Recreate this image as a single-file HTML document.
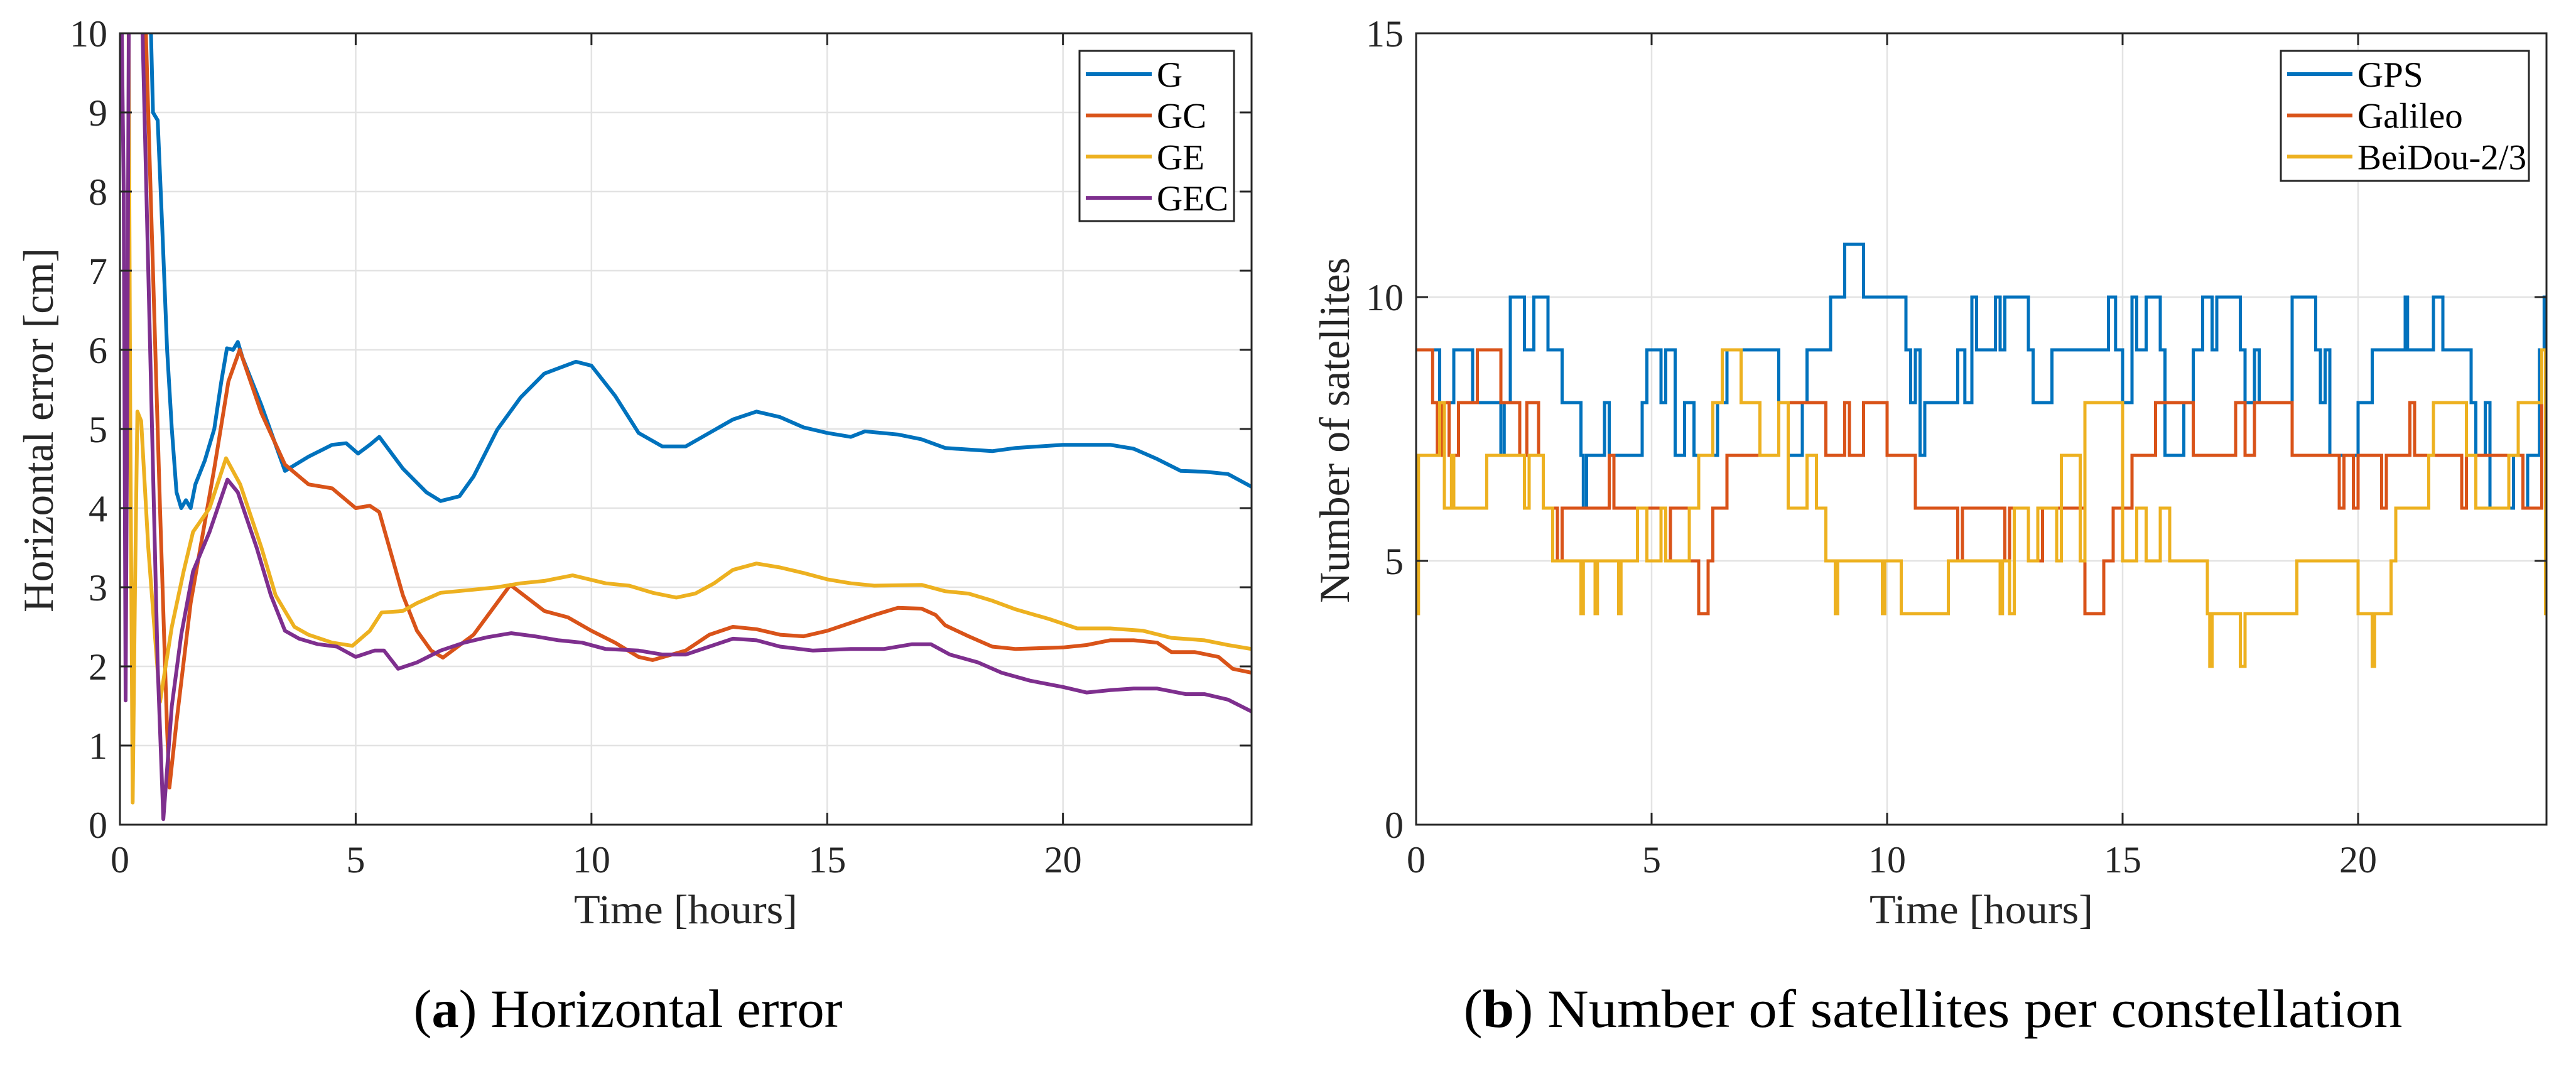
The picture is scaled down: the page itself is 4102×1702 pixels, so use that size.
<!DOCTYPE html>
<html><head><meta charset="utf-8"><style>
html,body{margin:0;padding:0;background:#fff}
svg{display:block}
text{font-family:"Liberation Serif","Times New Roman",serif;fill:#262626}
</style></head><body>
<svg id="fig" width="4102" height="1702" viewBox="0 0 4102 1702" xmlns="http://www.w3.org/2000/svg">
<defs>
<clipPath id="clipA"><rect x="191" y="53" width="1802" height="1260"/></clipPath>
<clipPath id="clipB"><rect x="2255" y="53" width="1800" height="1260"/></clipPath>
</defs>
<g id="panelA"></g>
<g id="panelB"></g>
<text x="1000" y="1635" font-size="86" text-anchor="middle" textLength="683" lengthAdjust="spacingAndGlyphs" style="fill:#000">(<tspan font-weight="bold">a</tspan>) Horizontal error</text>
<text x="3078" y="1635" font-size="86" text-anchor="middle" textLength="1495" lengthAdjust="spacingAndGlyphs" style="fill:#000">(<tspan font-weight="bold">b</tspan>) Number of satellites per constellation</text>
</svg>
<script>
// ---- Panel A data (hours, cm) ----
const gT = [0,0.6,0.65,0.7,0.8,0.9,1.0,1.1,1.2,1.3,1.4,1.5,1.6,1.8,2.0,2.15,2.27,2.4,2.5,2.6,3.0,3.5,4.0,4.5,4.8,5.05,5.3,5.5,6.0,6.5,6.8,7.2,7.5,8.0,8.5,9.0,9.67,10.0,10.5,11.0,11.5,12.0,12.5,13.0,13.5,14.0,14.5,15.0,15.5,15.8,16.5,17.0,17.5,18.0,18.5,19.0,20.0,21.0,21.5,22.0,22.5,23.0,23.5,24.0];
const gV = [12,12,10.2,9.0,8.9,7.5,6.0,5.0,4.2,4.0,4.1,4.0,4.3,4.6,5.0,5.6,6.02,6.0,6.1,5.9,5.3,4.47,4.65,4.8,4.82,4.69,4.8,4.9,4.5,4.2,4.09,4.15,4.4,4.99,5.4,5.7,5.85,5.8,5.42,4.95,4.78,4.78,4.95,5.12,5.22,5.15,5.02,4.95,4.9,4.97,4.93,4.87,4.76,4.74,4.72,4.76,4.8,4.8,4.75,4.62,4.47,4.46,4.43,4.27];
const gcT = [0,0.5,0.55,0.7,0.85,1.0,1.05,1.2,1.5,2.0,2.3,2.54,3.0,3.5,4.0,4.5,5.0,5.3,5.5,6.0,6.3,6.6,6.85,7.5,8.28,9.0,9.5,10.0,10.5,11.0,11.3,12.0,12.5,13.0,13.5,14.0,14.5,15.0,16.0,16.5,17.0,17.3,17.5,18.0,18.5,19.0,20.0,20.5,21.0,21.5,22.0,22.3,22.8,23.3,23.6,24.0];
const gcV = [12,12,10,7,4,1.2,0.47,1.3,2.8,4.5,5.6,6.0,5.2,4.55,4.3,4.25,4.0,4.03,3.95,2.9,2.45,2.2,2.11,2.4,3.03,2.7,2.62,2.45,2.3,2.12,2.08,2.2,2.4,2.5,2.47,2.4,2.38,2.45,2.65,2.74,2.73,2.65,2.52,2.38,2.25,2.22,2.24,2.27,2.33,2.33,2.3,2.18,2.18,2.12,1.97,1.92];
const geT = [0,0.17,0.22,0.27,0.32,0.37,0.45,0.6,0.85,1.1,1.35,1.55,1.9,2.25,2.55,3.0,3.3,3.7,4.0,4.5,4.93,5.3,5.55,6.0,6.3,6.8,7.5,8.0,8.5,9.0,9.6,10.3,10.8,11.3,11.8,12.2,12.6,13.0,13.5,14.0,14.5,15.0,15.5,16.0,17.0,17.5,18.0,18.5,19.0,19.7,20.3,21.0,21.7,22.3,23.0,23.5,24.0];
const geV = [12,12,5,0.28,3,5.22,5.1,3.5,1.55,2.5,3.2,3.7,4.0,4.63,4.3,3.5,2.9,2.5,2.4,2.3,2.26,2.45,2.68,2.7,2.8,2.93,2.97,3.0,3.05,3.08,3.15,3.05,3.02,2.93,2.87,2.92,3.05,3.22,3.3,3.25,3.18,3.1,3.05,3.02,3.03,2.95,2.92,2.83,2.72,2.6,2.48,2.48,2.45,2.36,2.33,2.27,2.22];
const gecT = [0,0.08,0.12,0.16,0.2,0.4,0.6,0.8,0.92,1.1,1.3,1.55,1.9,2.28,2.5,2.9,3.2,3.5,3.8,4.2,4.6,5.0,5.4,5.6,5.9,6.3,6.8,7.3,7.8,8.3,8.8,9.3,9.8,10.3,11.0,11.5,12.0,12.5,13.0,13.5,14.0,14.7,15.5,16.2,16.8,17.2,17.6,18.2,18.7,19.3,20.0,20.5,21.0,21.5,22.0,22.6,23.0,23.5,24.0];
const gecV = [12,8,1.57,6,12,12,7,2,0.07,1.5,2.4,3.2,3.7,4.36,4.2,3.5,2.9,2.45,2.35,2.28,2.25,2.12,2.2,2.2,1.97,2.05,2.2,2.3,2.37,2.42,2.38,2.33,2.3,2.22,2.2,2.15,2.15,2.25,2.35,2.33,2.25,2.2,2.22,2.22,2.28,2.28,2.15,2.05,1.92,1.82,1.74,1.67,1.7,1.72,1.72,1.65,1.65,1.58,1.43];
const seriesNamesA = ["G","GC","GE","GEC"];
const xTicks = [0,5,10,15,20];
const yTicksA = [0,1,2,3,4,5,6,7,8,9,10];
// ---- Panel B data (step change times, satellite counts) ----
const gpsT = [0,0.5,0.8,1.2,1.8,1.87,2.0,2.3,2.5,2.8,3.1,3.5,3.55,3.62,4.0,4.1,4.8,4.9,5.2,5.3,5.5,5.7,5.9,6.4,6.6,7.7,7.9,8.2,8.3,8.8,9.1,9.5,10.4,10.5,10.6,10.7,10.8,11.5,11.65,11.8,11.9,12.3,12.4,12.5,13.0,13.1,13.5,14.7,14.85,15.0,15.2,15.3,15.5,15.8,15.9,16.3,16.5,16.7,16.9,17.0,17.5,17.6,17.8,17.9,18.6,19.1,19.2,19.3,19.4,20.0,20.3,21.0,21.05,21.6,21.8,22.4,22.5,22.7,22.8,23.3,23.5,23.6,23.85,23.95];
const gpsV = [9,8,9,8,7,8,10,9,10,9,8,7,6,7,8,7,8,9,8,9,7,8,7,8,9,8,7,8,9,10,11,10,9,8,9,7,8,9,8,10,9,10,9,10,9,8,9,10,9,8,10,9,10,9,7,8,9,10,9,10,9,8,9,8,10,9,8,9,7,8,9,10,9,10,9,8,7,8,6,7,6,7,9,10,9];
const galT = [0,0.35,0.45,0.55,0.7,0.9,1.3,1.8,2.2,2.35,2.6,2.7,3.0,3.1,4.1,4.2,5.3,5.4,5.8,6.0,6.2,6.3,6.6,7.7,8.7,9.1,9.2,9.5,10.0,10.6,11.5,11.6,12.5,12.6,13.0,13.3,14.2,14.6,14.8,15.2,15.7,16.5,17.4,17.6,17.8,18.6,19.6,19.7,19.9,20.0,20.5,20.6,21.1,21.2,22.2,22.3,23.5,23.9];
const galV = [9,8,7,8,7,8,9,8,7,8,7,6,5,6,7,6,5,6,5,4,5,6,7,8,7,8,7,8,7,6,5,6,5,6,5,6,4,5,6,7,8,7,8,7,8,7,6,7,6,7,6,7,8,7,6,7,6,9];
const bdsT = [0,0.05,0.5,0.6,0.75,0.8,1.5,2.3,2.4,2.7,2.9,3.5,3.55,3.8,3.85,4.3,4.35,4.7,4.9,5.2,5.3,5.8,6.0,6.3,6.5,6.9,7.3,7.7,7.9,8.3,8.5,8.7,8.9,8.95,9.9,9.95,10.3,11.3,12.4,12.45,12.6,12.7,13.0,13.2,13.6,13.7,14.1,14.2,15.0,15.3,15.5,15.8,16.0,16.8,16.85,16.9,17.5,17.6,18.7,20.0,20.3,20.35,20.7,20.8,21.5,21.6,22.3,22.5,23.2,23.4,23.9,23.98];
const bdsV = [4,7,8,6,7,6,7,6,7,6,5,4,5,4,5,4,5,6,5,6,5,6,7,8,9,8,7,8,6,7,6,5,4,5,4,5,4,5,4,5,4,6,5,6,5,7,5,8,5,6,5,6,5,4,3,4,3,4,5,4,3,4,5,6,7,8,7,6,7,8,9,4];
const seriesNamesB = ["GPS","Galileo","BeiDou-2/3"];
const yTicksB = [0,5,10,15];

const NS = "http://www.w3.org/2000/svg";
const colors = ["#0072BD","#D95319","#EDB120","#7E2F8E"];
function mk(tag, attrs, parent){const e=document.createElementNS(NS,tag);for(const k in attrs)e.setAttribute(k,attrs[k]);parent.appendChild(e);return e;}

function axes(g, L, R, T, B, ymax, yTicks, clipId, ylabel, idp){
  const sx = t => L + t*(R-L)/24;
  const sy = v => B - v*(B-T)/ymax;
  for(const t of xTicks){ if(t===0) continue;
    const l=mk("line",{x1:sx(t),x2:sx(t),y1:T,y2:B,stroke:"#e3e3e3","stroke-width":2.5},g);
    
    
  }
  for(const v of yTicks){ if(v===0||v===ymax) continue;
    const l=mk("line",{x1:L,x2:R,y1:sy(v),y2:sy(v),stroke:"#e3e3e3","stroke-width":2.5},g);
    
    
  }
  const plot = mk("g",{"clip-path":"url(#"+clipId+")"},g);
  
  
  for(const t of xTicks){
    const tk=mk("path",{d:`M${sx(t)},${B}v-19M${sx(t)},${T}v19`,stroke:"#262626","stroke-width":3,fill:"none"},g);
    
    
    const tx=mk("text",{x:sx(t),y:1389,"font-size":60,"text-anchor":"middle"},g); tx.textContent=t;
    
    
  }
  for(const v of yTicks){
    const tk=mk("path",{d:`M${L},${sy(v)}h19M${R},${sy(v)}h-19`,stroke:"#262626","stroke-width":3,fill:"none"},g);
    
    
    const tx=mk("text",{x:L-20,y:sy(v)+21,"font-size":60,"text-anchor":"end"},g); tx.textContent=v;
    
    
  }
  const xl=mk("text",{x:(L+R)/2,y:1470,"font-size":66,"text-anchor":"middle",textLength:356,lengthAdjust:"spacingAndGlyphs"},g);
  xl.textContent="Time [hours]";
  
  
  const yl=mk("text",{x:0,y:0,"font-size":68,"text-anchor":"middle",transform:`translate(${L-107},685) rotate(-90)`,textLength:ylabel[1],lengthAdjust:"spacingAndGlyphs"},g);
  yl.textContent=ylabel[0];
  
  
  return {sx,sy,plot};
}
function frame(g,L,R,T,B){
  const f=mk("rect",{x:L,y:T,width:R-L,height:B-T,fill:"none",stroke:"#262626","stroke-width":3},g);
  
  
}
function legend(g, x0, y0, x1, y1, names, textX, lineX0, lineX1){
  const box=mk("rect",{x:x0,y:y0,width:x1-x0,height:y1-y0,fill:"#fff",stroke:"#262626","stroke-width":3},g);
  
  
  names.forEach((n,i)=>{
    const y=118+i*65.7;
    const ln=mk("line",{x1:lineX0,x2:lineX1,y1:y,y2:y,stroke:colors[i],"stroke-width":6},g);
    
    
    const t=mk("text",{x:textX,y:y+20,"font-size":57,style:"fill:#000"},g); t.textContent=n;
    
    
  });
}

// Panel A
const gA=document.getElementById("panelA");
const A=axes(gA,191,1993,53,1313,10,yTicksA,"clipA",["Horizontal error [cm]",580]);
[[gT,gV],[gcT,gcV],[geT,geV],[gecT,gecV]].forEach(([ts,vs],i)=>{
  const d=ts.map((t,j)=>(j?"L":"M")+A.sx(t).toFixed(1)+","+A.sy(vs[j]).toFixed(1)).join("");
  const p=mk("path",{d,fill:"none",stroke:colors[i],"stroke-width":6,"stroke-linejoin":"round"},A.plot);
  
  
});
frame(gA,191,1993,53,1313);
legend(gA,1719,81,1965,352,seriesNamesA,1842,1729,1834);

// Panel B
const gB=document.getElementById("panelB");
const B=axes(gB,2255,4055,53,1313,15,yTicksB,"clipB",["Number of satellites",550]);
[[gpsT,gpsV],[galT,galV],[bdsT,bdsV]].forEach(([ts,vs],i)=>{
  let d="M"+B.sx(ts[0]).toFixed(1)+","+B.sy(vs[0]).toFixed(1);
  for(let j=1;j<ts.length;j++){ d+="H"+B.sx(ts[j]).toFixed(1)+"V"+B.sy(vs[j]).toFixed(1); }
  d+="H"+B.sx(24).toFixed(1);
  const p=mk("path",{d,fill:"none",stroke:colors[i],"stroke-width":5},B.plot);
  
  
});
frame(gB,2255,4055,53,1313);
legend(gB,3632,81,4027,288,seriesNamesB,3754,3642,3746);
</script>
</body></html>
